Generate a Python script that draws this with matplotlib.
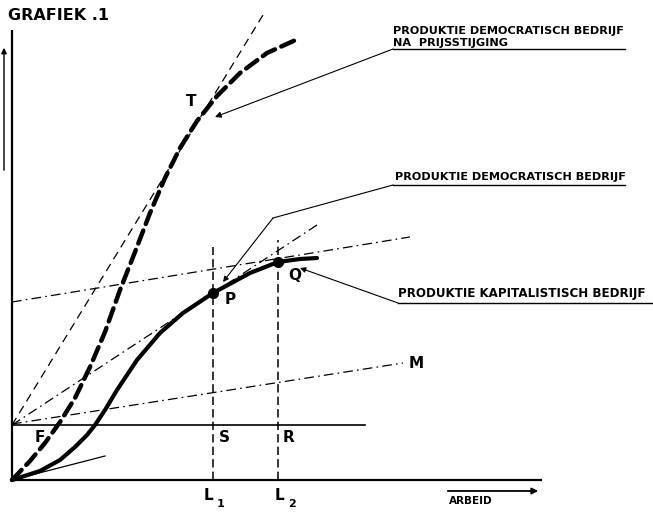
import matplotlib
matplotlib.use("Agg")
import matplotlib.pyplot as plt

plt.rcParams['lines.scale_dashes'] = False
plt.rcParams['font.family'] = ['DejaVu Sans']

# ---- data (labour on x, production on y; origin at the axes corner) ----
cap_x = [0, 28, 48, 63, 75, 83, 93, 105, 125, 148, 171, 201, 238, 266, 288, 305]
cap_y = [0, 9, 20, 33, 45, 55, 70, 90, 120, 147, 167, 187, 207, 218, 221, 222]

dem_x = [0, 18, 33, 48, 63, 78, 93, 108, 123, 138, 153, 168, 185, 205, 228, 255, 288]
dem_y = [0, 19, 37, 58, 82, 113, 148, 190, 228, 267, 302, 332, 359, 384, 407, 427, 442]

F_level = 55          # fixed cost level (line F)
L1, L2 = 201, 266     # labour inputs
P_pt = (201, 187)
Q_pt = (266, 218)
T_pt = (185, 359)

tangentT_x, tangentT_y = [0, 251], [55, 465]
lineFP_x, lineFP_y = [0, 305], [55, 255]
lineFM_x, lineFM_y = [0, 391], [56, 117]
lineQ_x, lineQ_y = [0, 398], [178, 243]
lineO_x, lineO_y = [0, 93], [0, 24]

label_top = ["PRODUKTIE DEMOCRATISCH BEDRIJF", "NA  PRIJSSTIJGING"]
label_mid = "PRODUKTIE DEMOCRATISCH BEDRIJF"
label_low = "PRODUKTIE KAPITALISTISCH BEDRIJF"

fig = plt.figure(figsize=(6.53, 5.13), dpi=100)
ax = fig.add_axes([0, 0, 1, 1])
ax.set_xlim(-12, 641)
ax.set_ylim(-33, 480)
ax.axis('off')

k = 'black'
# axes
ax.plot([0, 0], [0, 450], color=k, lw=1.6, solid_capstyle='butt')
ax.plot([0, 530], [0, 0], color=k, lw=1.6, solid_capstyle='butt')
ax.annotate('', xy=(-8, 435), xytext=(-8, 307),
            arrowprops=dict(arrowstyle='-|>', color=k, lw=1.0, mutation_scale=8))
ax.annotate('', xy=(529, -11), xytext=(433, -11),
            arrowprops=dict(arrowstyle='-|>', color=k, lw=1.3, mutation_scale=9))

# F line
ax.plot([0, 353], [F_level, F_level], color=k, lw=1.2)

# verticals L1, L2
ax.plot([L1, L1], [0, 233], color=k, lw=1.1, dashes=(6, 3))
ax.plot([L2, L2], [0, 240], color=k, lw=1.1, dashes=(6, 3))

# construction lines
ax.plot(tangentT_x, tangentT_y, color=k, lw=0.9, dashes=(6, 4))
dd = (7, 3, 1.2, 3)
ax.plot(lineFP_x, lineFP_y, color=k, lw=0.9, dashes=dd)
ax.plot(lineFM_x, lineFM_y, color=k, lw=0.9, dashes=dd)
ax.plot(lineQ_x, lineQ_y, color=k, lw=0.9, dashes=dd)
ax.plot(lineO_x, lineO_y, color=k, lw=0.9)

# production curves
ax.plot(cap_x, cap_y, color=k, lw=3.0, solid_capstyle='round', solid_joinstyle='round')
ax.plot(dem_x, dem_y, color=k, lw=3.2, dashes=(10, 5), dash_capstyle='round')

# points
ax.plot(*P_pt, 'o', color=k, ms=7)
ax.plot(*Q_pt, 'o', color=k, ms=7)

# point letters
lf = dict(fontsize=11, color=k, ha='left', va='center', fontweight='bold')
ax.text(174, 378, 'T', **lf)
ax.text(213, 181, 'P', **lf)
ax.text(276, 204, 'Q', **lf)
ax.text(207, 42, 'S', **lf)
ax.text(271, 42, 'R', **lf)
ax.text(23, 42, 'F', **lf)
ax.text(397, 117, 'M', **lf)
ax.text(192, -16, 'L', **lf)
ax.text(205, -24, '1', fontsize=8, color=k, ha='left', va='center', fontweight='bold')
ax.text(263, -16, 'L', **lf)
ax.text(276, -24, '2', fontsize=8, color=k, ha='left', va='center', fontweight='bold')
ax.text(459, -21, 'ARBEID', fontsize=7.5, color=k, ha='center', va='center', fontweight='bold')
ax.text(-4, 465, 'GRAFIEK .1', fontsize=11.5, color=k, ha='left', va='center', fontweight='bold')

# leader labels
tf = dict(fontsize=8.1, color=k, ha='left', va='center', fontweight='bold')
ax.text(381, 449, label_top[0], **tf)
ax.text(381, 437, label_top[1], **tf)
ax.plot([381, 613], [431, 431], color=k, lw=1.0)
ax.annotate('', xy=(203, 363), xytext=(381, 431),
            arrowprops=dict(arrowstyle='-|>', color=k, lw=0.8, mutation_scale=9, shrinkA=0, shrinkB=0))

ax.text(383, 303, label_mid, **tf)
ax.plot([381, 613], [295, 295], color=k, lw=1.0)
ax.plot([381, 261], [295, 262], color=k, lw=0.8)
ax.annotate('', xy=(211, 198), xytext=(261, 262),
            arrowprops=dict(arrowstyle='-|>', color=k, lw=0.8, mutation_scale=8, shrinkA=0, shrinkB=0))

ax.text(386, 187, label_low, fontsize=8.6, color=k, ha='left', va='center', fontweight='bold')
ax.plot([386, 640], [177, 177], color=k, lw=1.0)
ax.annotate('', xy=(288, 212), xytext=(386, 177),
            arrowprops=dict(arrowstyle='-|>', color=k, lw=0.8, mutation_scale=8, shrinkA=0, shrinkB=0))

fig.savefig('out.png', dpi=100, facecolor='white')
